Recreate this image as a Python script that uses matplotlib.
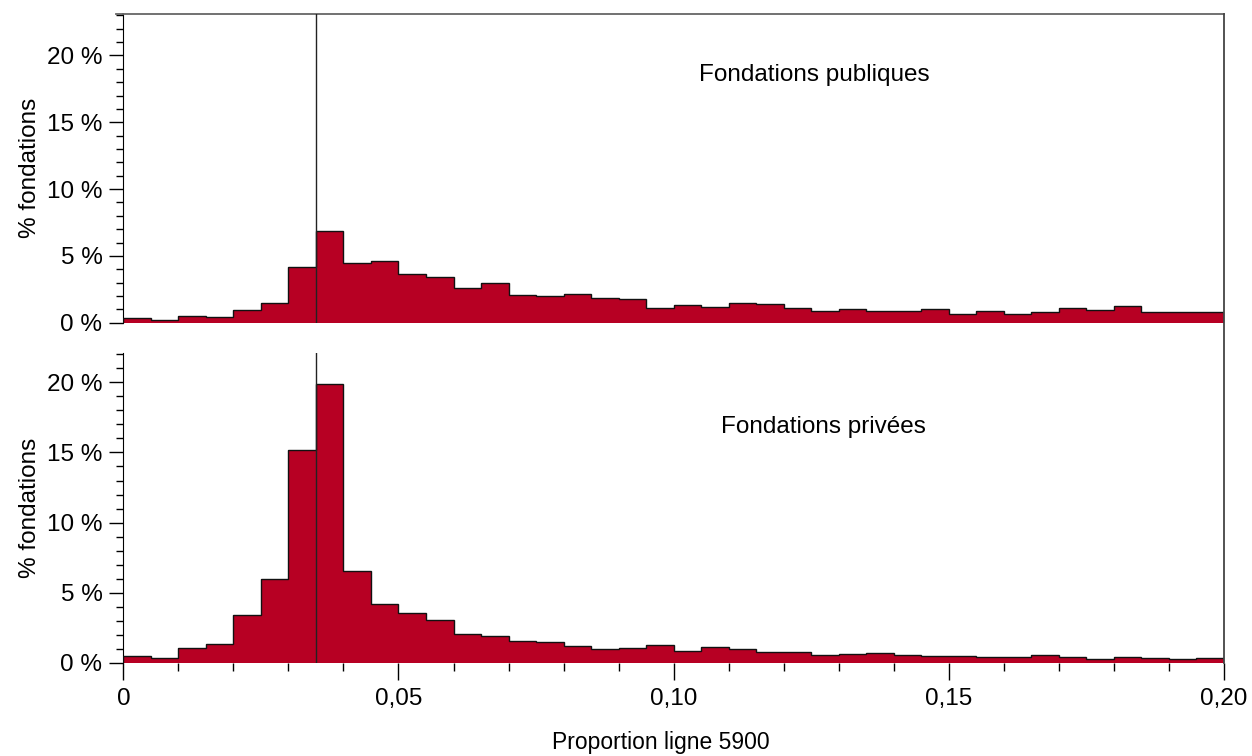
import numpy as np
import matplotlib
matplotlib.use("Agg")
import matplotlib.pyplot as plt
from matplotlib.lines import Line2D
from matplotlib.ticker import MultipleLocator, FuncFormatter

plt.rcParams['font.family'] = ['Liberation Sans', 'DejaVu Sans']

# histogram bins: 0 to 0.20 by 0.005
bin_edges = np.round(np.arange(0, 0.2001, 0.005), 4)

# % of foundations per bin
publiques = [0.33, 0.22, 0.48, 0.45, 0.93, 1.5, 4.2, 6.85, 4.45, 4.6,
             3.65, 3.4, 2.6, 2.98, 2.05, 2.0, 2.18, 1.88, 1.8, 1.13,
             1.33, 1.15, 1.48, 1.38, 1.13, 0.88, 1.05, 0.9, 0.87, 1.05,
             0.68, 0.85, 0.68, 0.78, 1.08, 0.93, 1.28, 0.78, 0.78, 0.78]
privees = [0.48, 0.31, 1.07, 1.33, 3.38, 5.98, 15.2, 19.9, 6.52, 4.17,
           3.57, 3.05, 2.05, 1.88, 1.55, 1.45, 1.17, 1.0, 1.02, 1.24,
           0.86, 1.1, 0.95, 0.74, 0.74, 0.57, 0.64, 0.71, 0.55, 0.5,
           0.5, 0.43, 0.43, 0.52, 0.38, 0.26, 0.38, 0.36, 0.29, 0.33]

seuil = 0.035
rouge = '#B70023'

fig = plt.figure(figsize=(12.52, 7.56), dpi=100)
ax1 = fig.add_axes([0.0985, 0.5731, 0.8791, 0.4084])
ax2 = fig.add_axes([0.0985, 0.1234, 0.8791, 0.4097])

def pct(v, pos):
    return '%d %%' % v

def dessine(ax, valeurs, ymax, titre, tx, ty):
    ax.bar(bin_edges[:-1], valeurs, width=0.005, align='edge', color=rouge,
           linewidth=0, zorder=2)
    ax.stairs(valeurs, bin_edges, color='#111111', linewidth=1.0, zorder=3)
    ax.axvline(seuil, color='#222222', linewidth=1.0, zorder=4)
    ax.set_xlim(0, 0.20)
    ax.set_ylim(0, ymax)
    ax.yaxis.set_major_locator(MultipleLocator(5))
    ax.yaxis.set_minor_locator(MultipleLocator(1))
    ax.yaxis.set_major_formatter(FuncFormatter(pct))
    ax.tick_params(axis='y', which='major', length=10, width=1, labelsize=17.5, pad=5)
    ax.tick_params(axis='y', which='minor', length=5, width=1)
    ax.set_ylabel('% fondations', fontsize=17.5)
    ax.yaxis.set_label_coords(-0.075, 0.5)
    ax.spines['right'].set_visible(False)
    ax.spines['bottom'].set_visible(False)
    ax.text(tx, ty, titre, fontsize=17.5, ha='center', va='center')

dessine(ax1, publiques, 23.1, 'Fondations publiques', 0.1255, 18.5)
dessine(ax2, privees, 22.1, 'Fondations privées', 0.1273, 16.8)

ax1.spines['top'].set_color('#666666')
ax1.spines['top'].set_linewidth(1.3)
ax1.tick_params(axis='x', which='both', bottom=False, labelbottom=False)
# short extension of the top border to the left of the axis
ax1.plot([-0.007, 0], [1, 1], color='#666666', linewidth=1.3,
         transform=ax1.transAxes, clip_on=False)

ax2.spines['top'].set_visible(False)
ax2.xaxis.set_major_locator(MultipleLocator(0.05))
ax2.xaxis.set_minor_locator(MultipleLocator(0.01))
ax2.xaxis.set_major_formatter(FuncFormatter(
    lambda v, p: '0' if abs(v) < 1e-9 else ('%.2f' % v).replace('.', ',')))
ax2.tick_params(axis='x', which='major', length=12, width=1, labelsize=17.5, pad=6)
ax2.tick_params(axis='x', which='minor', length=6, width=1)
ax2.set_xlabel('Proportion ligne 5900', fontsize=16.5)
ax2.xaxis.set_label_coords(0.488, -0.222)

# right border line spanning both panels
fig.add_artist(Line2D([0.9776, 0.9776], [0.1234, 0.9815], color='#444444',
                      linewidth=1.3, transform=fig.transFigure))

fig.savefig('out.png', dpi=100)
